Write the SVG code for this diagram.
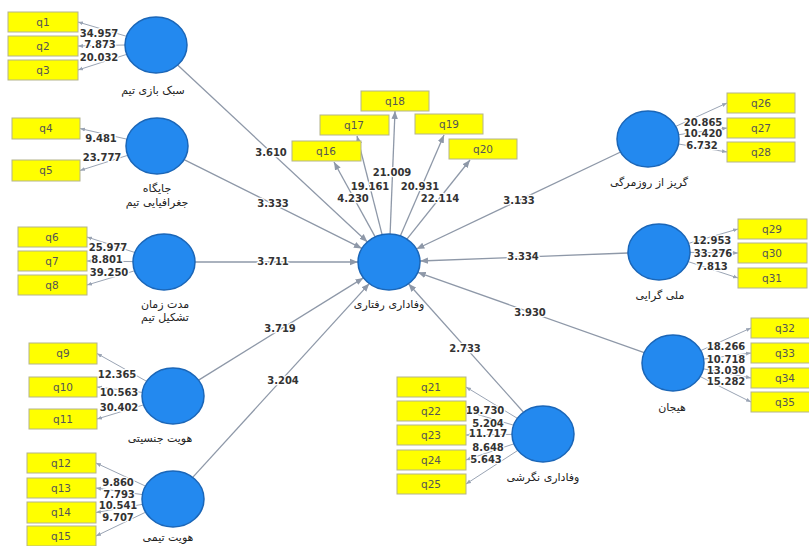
<svg xmlns="http://www.w3.org/2000/svg" width="809" height="546" viewBox="0 0 809 546">
<defs>
<marker id="ah" viewBox="0 0 10 10" refX="10" refY="5" markerWidth="8" markerHeight="8" markerUnits="userSpaceOnUse" orient="auto"><path d="M0,1 L10,5 L0,9 z" fill="#8e98a8"/></marker>
<marker id="ahs" viewBox="0 0 10 10" refX="10" refY="5" markerWidth="5" markerHeight="5" markerUnits="userSpaceOnUse" orient="auto"><path d="M0,1 L10,5 L0,9 z" fill="#9aa4b4"/></marker>
<style>
.box rect{fill:#ffff00;stroke:#b4b48c;stroke-width:1}
.box text{font-family:"DejaVu Sans",sans-serif;font-size:10.5px;fill:#555;text-anchor:middle}
.node ellipse{fill:#2389ef;stroke:#1a66b8;stroke-width:1.5}
.node text{font-family:"DejaVu Sans",sans-serif;font-size:11px;fill:#222;text-anchor:middle}
.edge line{stroke:#8e98a8;stroke-width:1.3;marker-end:url(#ah)}
.ind line{stroke:#9aa4b4;stroke-width:1;marker-end:url(#ahs)}
.val text{font-family:"DejaVu Sans",sans-serif;font-size:10px;font-weight:bold;fill:#333;text-anchor:middle;stroke:#fff;stroke-width:2.5;paint-order:stroke;stroke-linejoin:round}
</style>
</defs>
<rect width="809" height="546" fill="#fff"/>

<g id="connectors">
<g class="edge">
<line x1="177.6" y1="65.1" x2="367.4" y2="241.9"/>
<line x1="184.1" y1="159.6" x2="361.9" y2="248.4"/>
<line x1="195" y1="262" x2="358" y2="262"/>
<line x1="198.6" y1="380.1" x2="363.4" y2="277.9"/>
<line x1="192.7" y1="477.4" x2="369.3" y2="283.6"/>
<line x1="620.6" y1="152" x2="416.4" y2="249"/>
<line x1="628" y1="253" x2="420" y2="261"/>
<line x1="644.2" y1="352.7" x2="417.8" y2="272.3"/>
<line x1="523.5" y1="412.2" x2="408.5" y2="283.8"/>
<line x1="375.2" y1="236.9" x2="334" y2="162"/>
<line x1="382.1" y1="234.7" x2="357" y2="136"/>
<line x1="390.1" y1="234" x2="395" y2="111"/>
<line x1="400.3" y1="235.9" x2="444" y2="135"/>
<line x1="406.9" y1="239.2" x2="470" y2="160"/>
</g>
<g class="ind">
<line x1="126.6" y1="36.3" x2="78" y2="22"/>
<line x1="125" y1="45" x2="78" y2="46"/>
<line x1="126.9" y1="54.3" x2="78" y2="70"/>
<line x1="127" y1="139.2" x2="80" y2="128.5"/>
<line x1="127.8" y1="155.3" x2="80" y2="170.5"/>
<line x1="134.9" y1="252.5" x2="87" y2="237"/>
<line x1="133" y1="261.6" x2="87" y2="261"/>
<line x1="134.6" y1="270.8" x2="87" y2="285"/>
<line x1="146.6" y1="381.3" x2="97" y2="353.5"/>
<line x1="142.2" y1="392.4" x2="97" y2="387"/>
<line x1="143.6" y1="404.9" x2="97" y2="419"/>
<line x1="145.5" y1="486.1" x2="96" y2="463"/>
<line x1="142.4" y1="494.6" x2="96" y2="488"/>
<line x1="142.7" y1="504.3" x2="96" y2="512.5"/>
<line x1="145.6" y1="512.2" x2="96" y2="536"/>
<line x1="517.3" y1="418.3" x2="466" y2="387"/>
<line x1="513.6" y1="425.2" x2="466" y2="411"/>
<line x1="512" y1="434.4" x2="466" y2="435"/>
<line x1="514" y1="443.8" x2="466" y2="460"/>
<line x1="517.8" y1="450.4" x2="466" y2="484"/>
<line x1="675.7" y1="126.4" x2="727" y2="103"/>
<line x1="678.6" y1="134.7" x2="727" y2="128"/>
<line x1="678.4" y1="144" x2="727" y2="152"/>
<line x1="688.5" y1="243.4" x2="738" y2="229"/>
<line x1="690" y1="252.4" x2="738" y2="253"/>
<line x1="688.1" y1="261.6" x2="738" y2="278"/>
<line x1="700.7" y1="350.6" x2="751" y2="328"/>
<line x1="703.6" y1="359.1" x2="751" y2="353"/>
<line x1="703.2" y1="368.8" x2="751" y2="378"/>
<line x1="700.1" y1="376.5" x2="751" y2="402"/>
</g>
<g class="val">
<text x="271" y="156">3.610</text>
<text x="273" y="207">3.333</text>
<text x="353" y="202">4.230</text>
<text x="370" y="190">19.161</text>
<text x="392" y="176">21.009</text>
<text x="420" y="190">20.931</text>
<text x="440" y="202">22.114</text>
<text x="519" y="204">3.133</text>
<text x="273" y="265">3.711</text>
<text x="523" y="260">3.334</text>
<text x="280" y="332">3.719</text>
<text x="530" y="316">3.930</text>
<text x="465" y="352">2.733</text>
<text x="283" y="384">3.204</text>
<text x="99" y="37">34.957</text>
<text x="100" y="48">7.873</text>
<text x="99" y="61">20.032</text>
<text x="101" y="142">9.481</text>
<text x="102" y="161">23.777</text>
<text x="108" y="251">25.977</text>
<text x="107" y="263">8.801</text>
<text x="109" y="276">39.250</text>
<text x="117" y="378">12.365</text>
<text x="119" y="396">10.563</text>
<text x="119" y="411">30.402</text>
<text x="118" y="486">9.860</text>
<text x="119" y="498">7.793</text>
<text x="118" y="509">10.541</text>
<text x="118" y="521">9.707</text>
<text x="485" y="414">19.730</text>
<text x="488" y="427">5.204</text>
<text x="488" y="437">11.717</text>
<text x="488" y="451">8.648</text>
<text x="486" y="463">5.643</text>
<text x="703" y="126">20.865</text>
<text x="703" y="137">10.420</text>
<text x="702" y="149">6.732</text>
<text x="712" y="244">12.953</text>
<text x="713" y="257">33.276</text>
<text x="712" y="270">7.813</text>
<text x="726" y="350">18.266</text>
<text x="726" y="363">10.718</text>
<text x="726" y="374">13.030</text>
<text x="726" y="385">15.282</text>
</g>
</g>

<g id="n-sabk" class="node"><ellipse cx="156" cy="45" rx="31" ry="28"/><text x="153" y="94">سبک بازی تیم</text></g>
<g id="n-jaygah" class="node"><ellipse cx="157" cy="146" rx="31" ry="28"/><text x="157" y="192">جایگاه</text><text x="157" y="206">جغرافیایی تیم</text></g>
<g id="n-moddat" class="node"><ellipse cx="164" cy="262" rx="31" ry="28"/><text x="165" y="308">مدت زمان</text><text x="165" y="321">تشکیل تیم</text></g>
<g id="n-jensiati" class="node"><ellipse cx="173" cy="396" rx="31" ry="28"/><text x="160" y="442">هویت جنسیتی</text></g>
<g id="n-teami" class="node"><ellipse cx="173" cy="499" rx="31" ry="28"/><text x="168" y="541">هویت تیمی</text></g>
<g id="n-raftari" class="node"><ellipse cx="389" cy="262" rx="31" ry="28"/><text x="389" y="308">وفاداری رفتاری</text></g>
<g id="n-goriz" class="node"><ellipse cx="648" cy="139" rx="31" ry="28"/><text x="649" y="186">گریز از روزمرگی</text></g>
<g id="n-melli" class="node"><ellipse cx="659" cy="252" rx="31" ry="28"/><text x="660" y="299">ملی گرایی</text></g>
<g id="n-hayajan" class="node"><ellipse cx="673" cy="363" rx="31" ry="28"/><text x="672" y="411">هیجان</text></g>
<g id="n-negareshi" class="node"><ellipse cx="543" cy="434" rx="31" ry="28"/><text x="543" y="481">وفاداری نگرشی</text></g>

<g id="q1" class="box"><rect x="8" y="12" width="70" height="20"/><text x="43" y="26">q1</text></g>
<g id="q2" class="box"><rect x="8" y="36" width="70" height="20"/><text x="43" y="50">q2</text></g>
<g id="q3" class="box"><rect x="8" y="60" width="70" height="20"/><text x="43" y="74">q3</text></g>
<g id="q4" class="box"><rect x="12" y="118" width="68" height="21"/><text x="46" y="132">q4</text></g>
<g id="q5" class="box"><rect x="12" y="160" width="68" height="21"/><text x="46" y="174">q5</text></g>
<g id="q6" class="box"><rect x="18" y="227" width="69" height="20"/><text x="52" y="241">q6</text></g>
<g id="q7" class="box"><rect x="18" y="251" width="69" height="20"/><text x="52" y="265">q7</text></g>
<g id="q8" class="box"><rect x="18" y="275" width="69" height="20"/><text x="52" y="289">q8</text></g>
<g id="q9" class="box"><rect x="29" y="343" width="68" height="21"/><text x="63" y="357">q9</text></g>
<g id="q10" class="box"><rect x="29" y="377" width="68" height="20"/><text x="63" y="391">q10</text></g>
<g id="q11" class="box"><rect x="29" y="409" width="68" height="20"/><text x="63" y="423">q11</text></g>
<g id="q12" class="box"><rect x="27" y="453" width="69" height="20"/><text x="61" y="467">q12</text></g>
<g id="q13" class="box"><rect x="27" y="478" width="69" height="20"/><text x="61" y="492">q13</text></g>
<g id="q14" class="box"><rect x="27" y="502" width="69" height="21"/><text x="61" y="516">q14</text></g>
<g id="q15" class="box"><rect x="27" y="526" width="69" height="20"/><text x="61" y="540">q15</text></g>
<g id="q16" class="box"><rect x="292" y="141" width="69" height="20"/><text x="326" y="155">q16</text></g>
<g id="q17" class="box"><rect x="320" y="115" width="69" height="20"/><text x="354" y="129">q17</text></g>
<g id="q18" class="box"><rect x="361" y="91" width="68" height="20"/><text x="395" y="105">q18</text></g>
<g id="q19" class="box"><rect x="415" y="114" width="68" height="20"/><text x="449" y="128">q19</text></g>
<g id="q20" class="box"><rect x="449" y="139" width="68" height="20"/><text x="483" y="153">q20</text></g>
<g id="q21" class="box"><rect x="397" y="377" width="69" height="20"/><text x="431" y="391">q21</text></g>
<g id="q22" class="box"><rect x="397" y="401" width="69" height="20"/><text x="431" y="415">q22</text></g>
<g id="q23" class="box"><rect x="397" y="425" width="69" height="20"/><text x="431" y="439">q23</text></g>
<g id="q24" class="box"><rect x="397" y="450" width="69" height="20"/><text x="431" y="464">q24</text></g>
<g id="q25" class="box"><rect x="397" y="474" width="69" height="20"/><text x="431" y="488">q25</text></g>
<g id="q26" class="box"><rect x="727" y="93" width="68" height="20"/><text x="761" y="107">q26</text></g>
<g id="q27" class="box"><rect x="727" y="118" width="68" height="20"/><text x="761" y="132">q27</text></g>
<g id="q28" class="box"><rect x="727" y="142" width="68" height="20"/><text x="761" y="156">q28</text></g>
<g id="q29" class="box"><rect x="738" y="219" width="69" height="20"/><text x="772" y="233">q29</text></g>
<g id="q30" class="box"><rect x="738" y="243" width="69" height="20"/><text x="772" y="257">q30</text></g>
<g id="q31" class="box"><rect x="738" y="268" width="69" height="20"/><text x="772" y="282">q31</text></g>
<g id="q32" class="box"><rect x="751" y="318" width="68" height="20"/><text x="785" y="332">q32</text></g>
<g id="q33" class="box"><rect x="751" y="343" width="68" height="20"/><text x="785" y="357">q33</text></g>
<g id="q34" class="box"><rect x="751" y="368" width="68" height="20"/><text x="785" y="382">q34</text></g>
<g id="q35" class="box"><rect x="751" y="392" width="68" height="20"/><text x="785" y="406">q35</text></g>
</svg>
